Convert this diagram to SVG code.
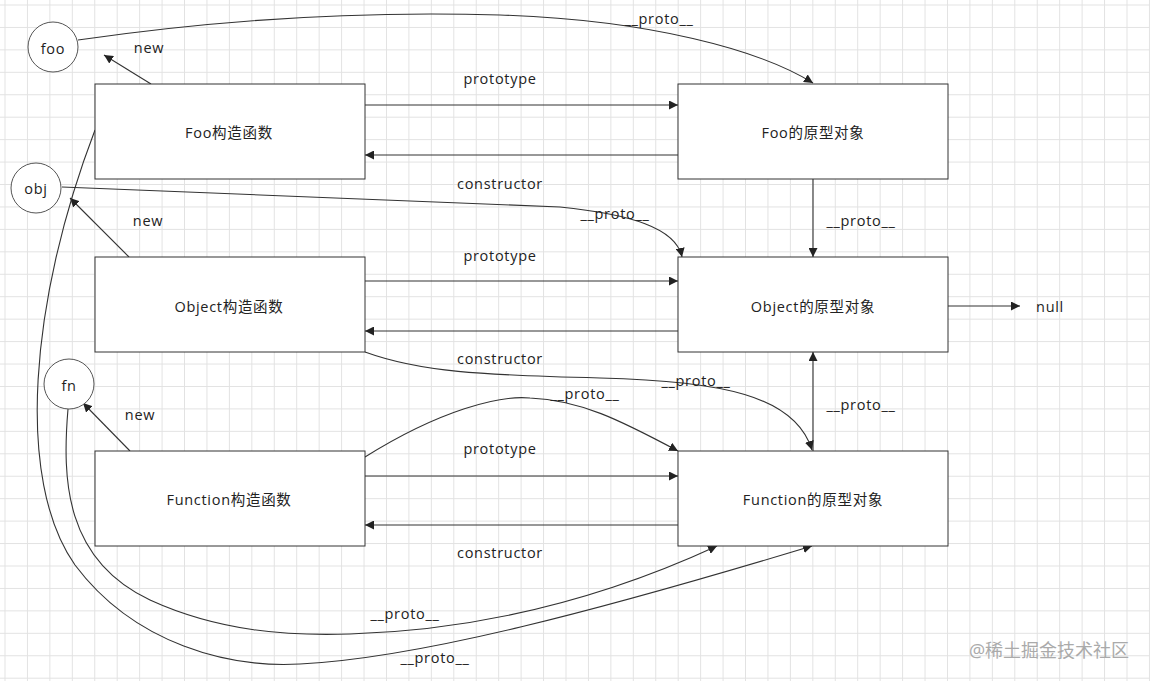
<svg xmlns="http://www.w3.org/2000/svg" width="1150" height="681" viewBox="0 0 1150 681">
<defs>
<pattern id="grid" patternUnits="userSpaceOnUse" x="4.5" y="4.5" width="22.44" height="22.44">
<rect x="0" y="0" width="1" height="22.44" fill="#e2e2e2"/>
<rect x="0" y="0" width="22.44" height="1" fill="#e2e2e2"/>
</pattern>
<marker id="arr" markerUnits="userSpaceOnUse" markerWidth="10" markerHeight="9" refX="9" refY="4.5" orient="auto">
<path d="M0,0 L9,4.5 L0,9 z" fill="#222"/>
</marker>
<style>
text{font-family:"Open Sans","Noto Sans CJK SC",sans-serif;font-size:14.5px;fill:#222;text-anchor:middle;dominant-baseline:central;letter-spacing:0.7px}
.box{fill:#fff;stroke:#333;stroke-width:1}
.circ{fill:#fff;stroke:#555;stroke-width:1}
.c{fill:none;stroke:#333;stroke-width:1.1;marker-end:url(#arr)}
.wm{font-size:18px;fill:#aaa;letter-spacing:0}
</style>
</defs>
<rect width="1150" height="681" fill="#fff"/>
<rect width="1150" height="681" fill="url(#grid)"/>

<g id="connectors">
<path class="c" d="M151,84 L104,55"/>
<path class="c" d="M129,257 L70,198"/>
<path class="c" d="M130,451 L83,403"/>
<path class="c" d="M365,105 L678,105"/>
<path class="c" d="M678,155 L365,155"/>
<path class="c" d="M365,281 L678,281"/>
<path class="c" d="M678,331 L365,331"/>
<path class="c" d="M365,476 L678,476"/>
<path class="c" d="M678,525 L365,525"/>
<path class="c" d="M813,179 L813,257"/>
<path class="c" d="M813,451 L813,352"/>
<path class="c" d="M948,306 L1020,306"/>
<path class="c" d="M78,40 C250,15 400,12 500,15 C650,20 760,50 813,83"/>
<path class="c" d="M62,187 L560,207 C630,214 676,228 682,257"/>
<path class="c" d="M365,352 C420,372 480,375 600,378 C720,381 795,395 812,450"/>
<path class="c" d="M365,457 C440,410 500,395 530,398 C580,400 620,420 678,451"/>
<path class="c" d="M95,130 C30,300 15,480 75,565 C135,645 230,668 300,664 C420,658 600,610 812,546"/>
<path class="c" d="M68,409 C62,480 65,560 150,600 C220,632 290,636 350,634 C480,630 600,600 717,546"/>
</g>

<g id="labels">
<text x="149" y="47">new</text>
<text x="148" y="220">new</text>
<text x="140" y="414">new</text>
<text x="500" y="78">prototype</text>
<text x="500" y="183">constructor</text>
<text x="500" y="255">prototype</text>
<text x="500" y="358">constructor</text>
<text x="500" y="448">prototype</text>
<text x="500" y="552">constructor</text>
<text x="659" y="18">__proto__</text>
<text x="861" y="220">__proto__</text>
<text x="615" y="213">__proto__</text>
<text x="696" y="380">__proto__</text>
<text x="585" y="393">__proto__</text>
<text x="861" y="404">__proto__</text>
<text x="405" y="613">__proto__</text>
<text x="435" y="657">__proto__</text>
<text x="1050" y="306">null</text>
</g>

<g id="foo"><circle class="circ" cx="53" cy="47" r="25"/><text x="53" y="48">foo</text></g>
<g id="obj"><circle class="circ" cx="36" cy="188" r="25"/><text x="36" y="188">obj</text></g>
<g id="fn"><circle class="circ" cx="69" cy="384" r="25"/><text x="69" y="385">fn</text></g>

<g id="FooCtor"><rect class="box" x="95" y="84" width="270" height="95"/><text x="229" y="132">Foo构造函数</text></g>
<g id="FooProto"><rect class="box" x="678" y="84" width="270" height="95"/><text x="813" y="132">Foo的原型对象</text></g>
<g id="ObjectCtor"><rect class="box" x="95" y="257" width="270" height="95"/><text x="229" y="306">Object构造函数</text></g>
<g id="ObjectProto"><rect class="box" x="678" y="257" width="270" height="95"/><text x="813" y="306">Object的原型对象</text></g>
<g id="FunctionCtor"><rect class="box" x="95" y="451" width="270" height="95"/><text x="229" y="499">Function构造函数</text></g>
<g id="FunctionProto"><rect class="box" x="678" y="451" width="270" height="95"/><text x="813" y="499">Function的原型对象</text></g>

<text class="wm" x="1049" y="650">@稀土掘金技术社区</text>
</svg>
